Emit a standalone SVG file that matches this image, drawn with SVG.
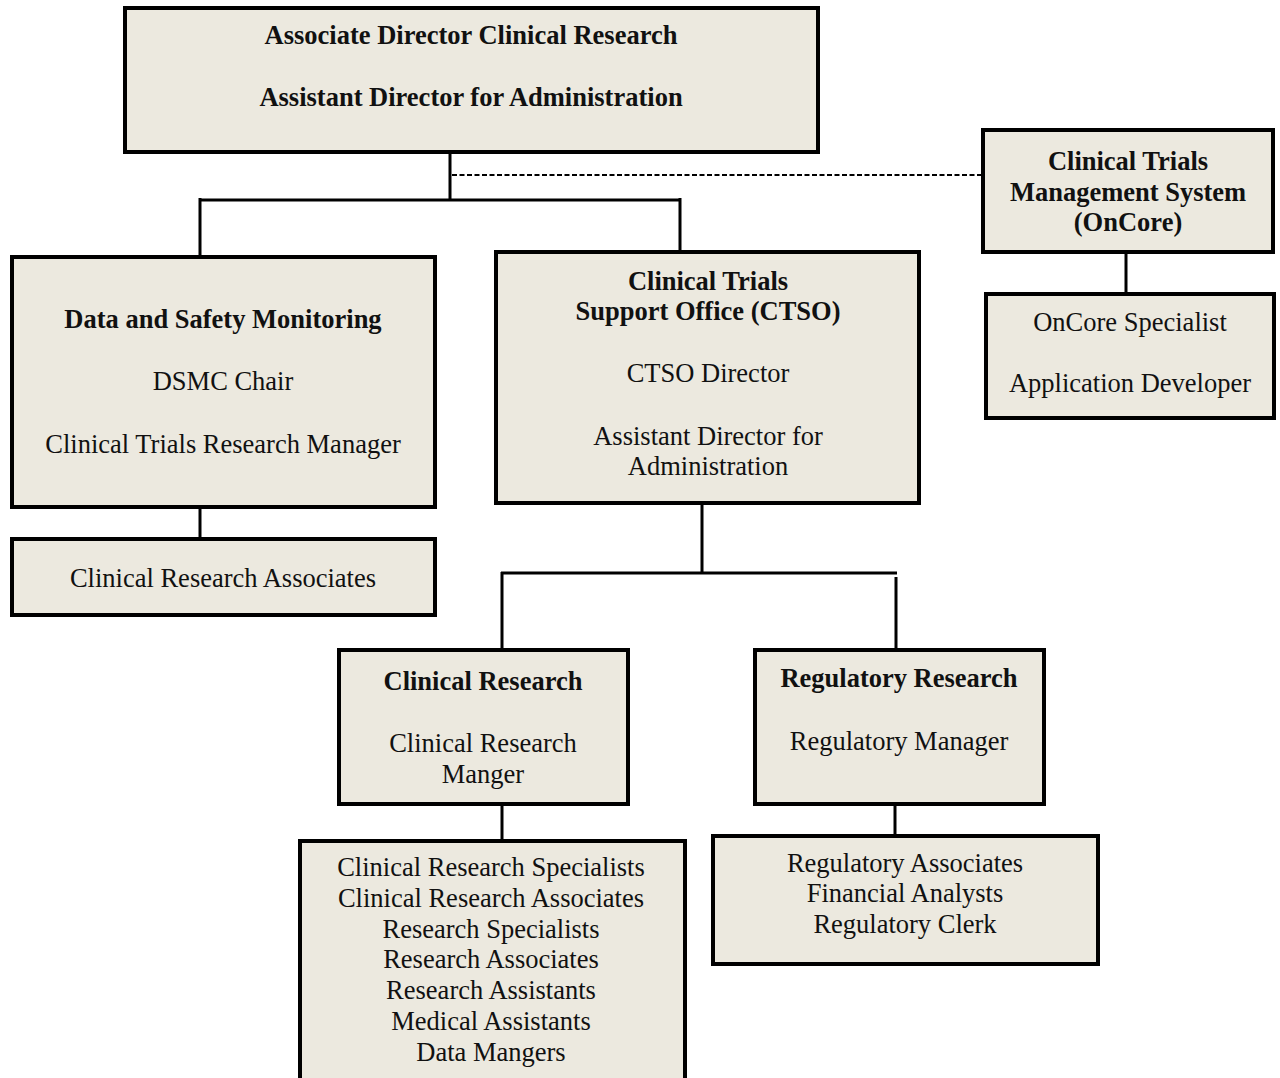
<svg xmlns="http://www.w3.org/2000/svg" width="1280" height="1078" viewBox="0 0 1280 1078">
<style>
.box{fill:#ECE9DF;stroke:#000;stroke-width:4}
.t{font-family:"Liberation Serif","Times New Roman",serif;font-size:26.5px;fill:#111;text-anchor:middle}
.b{font-weight:bold}
.c{stroke:#000;stroke-width:3;fill:none}
.d{stroke:#000;stroke-width:2;fill:none;stroke-dasharray:5 2.5}
</style>
<rect width="1280" height="1078" fill="#fff"/>
<g id="connectors">
<path class="c" d="M450 152V200M200 200H680M200 198V256M680 198V252"/>
<path class="d" d="M452 175H983"/>
<path class="c" d="M200 506V539"/>
<path class="c" d="M702 503V573M501 573H897M502 572V650M896 577V650"/>
<path class="c" d="M502 803V840"/>
<path class="c" d="M895 803V836"/>
<path class="c" d="M1126 252V293"/>
</g>
<g id="top">
<rect class="box" x="125" y="8" width="693" height="144"/>
<text class="t b" x="471" y="44">Associate Director Clinical Research</text>
<text class="t b" x="471" y="106">Assistant Director for Administration</text>
</g>
<g id="dsm">
<rect class="box" x="12" y="257" width="423" height="250"/>
<text class="t b" x="223" y="328">Data and Safety Monitoring</text>
<text class="t" x="223" y="390">DSMC Chair</text>
<text class="t" x="223" y="453">Clinical Trials Research Manager</text>
</g>
<g id="cra">
<rect class="box" x="12" y="539" width="423" height="76"/>
<text class="t" x="223" y="587">Clinical Research Associates</text>
</g>
<g id="ctso">
<rect class="box" x="496" y="252" width="423" height="251"/>
<text class="t b" x="708" y="290">Clinical Trials</text>
<text class="t b" x="708" y="320">Support Office (CTSO)</text>
<text class="t" x="708" y="382">CTSO Director</text>
<text class="t" x="708" y="445">Assistant Director for</text>
<text class="t" x="708" y="475">Administration</text>
</g>
<g id="ctms">
<rect class="box" x="983" y="130" width="290" height="122"/>
<text class="t b" x="1128" y="170">Clinical Trials</text>
<text class="t b" x="1128" y="201">Management System</text>
<text class="t b" x="1128" y="231">(OnCore)</text>
</g>
<g id="oncore-staff">
<rect class="box" x="986" y="294" width="288" height="124"/>
<text class="t" x="1130" y="331">OnCore Specialist</text>
<text class="t" x="1130" y="392">Application Developer</text>
</g>
<g id="clinical-research">
<rect class="box" x="339" y="650" width="289" height="154"/>
<text class="t b" x="483" y="690">Clinical Research</text>
<text class="t" x="483" y="752">Clinical Research</text>
<text class="t" x="483" y="783">Manger</text>
</g>
<g id="cr-staff">
<rect class="box" x="300" y="841" width="385" height="245"/>
<text class="t" x="491" y="876">Clinical Research Specialists</text>
<text class="t" x="491" y="907">Clinical Research Associates</text>
<text class="t" x="491" y="938">Research Specialists</text>
<text class="t" x="491" y="968">Research Associates</text>
<text class="t" x="491" y="999">Research Assistants</text>
<text class="t" x="491" y="1030">Medical Assistants</text>
<text class="t" x="491" y="1061">Data Mangers</text>
</g>
<g id="regulatory-research">
<rect class="box" x="755" y="650" width="289" height="154"/>
<text class="t b" x="899" y="687">Regulatory Research</text>
<text class="t" x="899" y="750">Regulatory Manager</text>
</g>
<g id="reg-staff">
<rect class="box" x="713" y="836" width="385" height="128"/>
<text class="t" x="905" y="872">Regulatory Associates</text>
<text class="t" x="905" y="902">Financial Analysts</text>
<text class="t" x="905" y="933">Regulatory Clerk</text>
</g>
</svg>
